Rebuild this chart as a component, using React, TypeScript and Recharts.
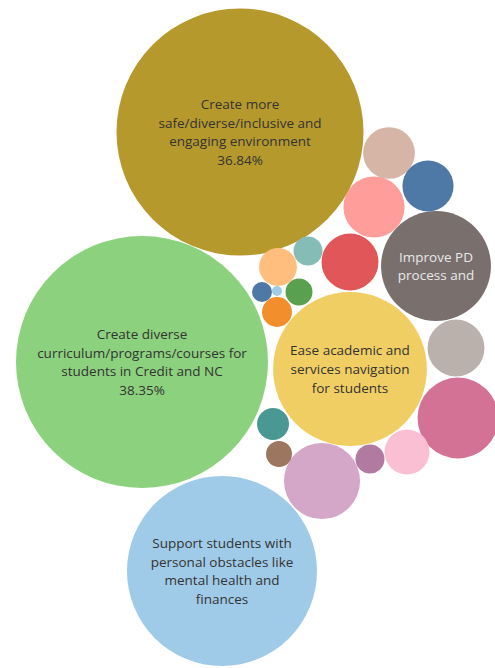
import { ScatterChart, Scatter, XAxis, YAxis, ZAxis, Cell } from 'recharts';

// Themes shown as a packed bubble chart (bubble area ~ number of responses, n = 266)
const themes = [
  'Create more safe/diverse/inclusive and engaging environment',
  'Create diverse curriculum/programs/courses for students in Credit and NC',
  'Support students with personal obstacles like mental health and finances',
  'Ease academic and services navigation for students',
  'Improve PD process and',
  'Theme 6', 'Theme 7', 'Theme 8', 'Theme 9', 'Theme 10', 'Theme 11', 'Theme 12',
  'Theme 13', 'Theme 14', 'Theme 15', 'Theme 16', 'Theme 17', 'Theme 18',
  'Theme 19', 'Theme 20', 'Theme 21', 'Theme 22',
];

const responses = [
  98, 102, 58, 38, 19.4, 10.5, 9.3, 6, 5.2, 5.2, 4.3, 4.2,
  3.25, 2.3, 1.64, 1.44, 1.35, 1.35, 1.17, 1.08, 0.64, 0.16,
];

// packed-bubble layout positions (as produced by the packing)
const layoutX = [
  240, 142, 222, 350, 436, 458, 322, 374, 456, 350, 389, 428,
  407, 278, 273, 277, 370, 308, 299, 279, 262, 277,
];
const layoutY = [
  132, 362, 571, 369, 266, 418, 481, 207, 348, 262, 153, 186,
  452, 267, 424, 312, 459, 251, 292, 454, 292, 291,
];

// text shown inside bubbles ('' = no label)
const bubbleLabels = [
  'Create more\nsafe/diverse/inclusive and\nengaging environment\n36.84%',
  'Create diverse\ncurriculum/programs/courses for\nstudents in Credit and NC\n38.35%',
  'Support students with\npersonal obstacles like\nmental health and\nfinances',
  'Ease academic and\nservices navigation\nfor students',
  'Improve PD\nprocess and',
  '', '', '', '', '', '', '', '', '', '', '', '', '', '', '', '', '',
];

const COLORS = [
  '#B6992D', '#8CD17D', '#A0CBE8', '#F1CE63', '#79706E', '#D37295', '#D4A6C8',
  '#FF9D9A', '#BAB0AC', '#E15759', '#D7B5A6', '#4E79A7', '#FABFD2', '#FFBE7D',
  '#499894', '#F28E2B', '#B07AA1', '#86BCB6', '#59A14F', '#9D7660', '#4E79A7',
  '#A0CBE8',
];

const data = themes.map((name, i) => ({
  name,
  x: layoutX[i],
  y: layoutY[i],
  value: responses[i],
  label: bubbleLabels[i],
  dark: COLORS[i] === '#79706E',
}));

const W = 495;
const H = 668;
const MAX_R = 126;

const Bubble = (props: any) => {
  const { cx, cy, width, fill, payload } = props;
  const r = width / 2;
  const lines: string[] = payload.label ? payload.label.split('\n') : [];
  const lh = 18.8;
  const startY = cy - ((lines.length - 1) * lh) / 2;
  return (
    <g>
      <circle cx={cx} cy={cy} r={r} fill={fill} />
      {lines.length > 0 && (
        <text
          x={cx}
          textAnchor="middle"
          dominantBaseline="central"
          fontFamily="'Open Sans', sans-serif"
          fontSize={13.5}
          fill={payload.dark ? '#E8E8E8' : '#333333'}
        >
          {lines.map((l, j) => (
            <tspan key={j} x={cx} y={startY + j * lh}>
              {l}
            </tspan>
          ))}
        </text>
      )}
    </g>
  );
};

export default function App() {
  return (
    <div style={{ position: 'absolute', left: 0, top: 0, width: W, height: H, background: '#fff' }}>
      <ScatterChart width={W} height={H} margin={{ top: 0, right: 0, bottom: 0, left: 0 }}>
        <XAxis type="number" dataKey="x" domain={[0, W]} hide allowDataOverflow />
        <YAxis type="number" dataKey="y" domain={[0, H]} reversed hide allowDataOverflow />
        <ZAxis type="number" dataKey="value" domain={[0, 102]} range={[0, Math.PI * MAX_R * MAX_R]} />
        <Scatter data={data} shape={Bubble} isAnimationActive={false}>
          {data.map((d, i) => (
            <Cell key={d.name + i} fill={COLORS[i]} />
          ))}
        </Scatter>
      </ScatterChart>
    </div>
  );
}
